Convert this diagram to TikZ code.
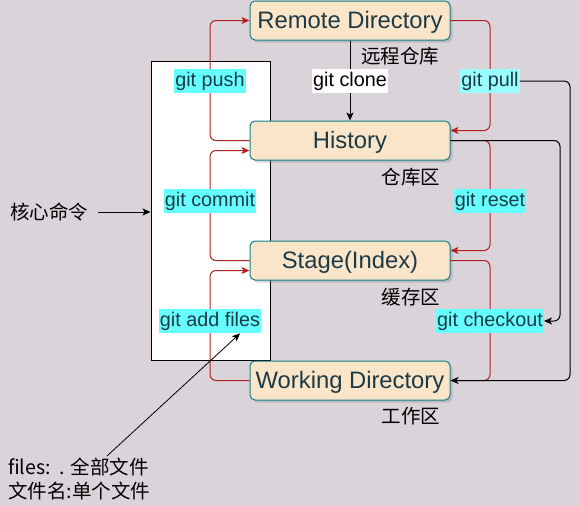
\documentclass[tikz,border=0pt]{standalone}
\usepackage{fontspec}
\setmainfont{Liberation Sans}
\newfontfamily\cjk{Noto Sans CJK SC}
\usetikzlibrary{arrows.meta,shadows,calc}
\definecolor{bgc}{RGB}{218,211,218}
\definecolor{boxf}{RGB}{251,229,201}
\definecolor{boxb}{RGB}{16,128,136}
\definecolor{txt}{RGB}{28,58,70}
\definecolor{cy}{RGB}{102,255,255}
\definecolor{cylight}{RGB}{153,255,255}
\definecolor{redl}{RGB}{178,34,34}
\begin{document}
\begin{tikzpicture}[x=1pt,y=-1pt,
  box/.style={draw=boxb, fill=boxf, rounded corners=5pt, minimum width=200pt, minimum height=39pt,
    line width=1pt, text=txt, font=\fontsize{23.8}{26}\selectfont, text height=17pt, text depth=0.5pt,
    drop shadow={shadow xshift=2.5pt, shadow yshift=-2.5pt, opacity=0.3}},
  lab/.style={fill=cy, text=txt, font=\fontsize{19.8}{22}\selectfont, inner xsep=1pt, inner ysep=2.5pt,
    text height=15pt, text depth=4.5pt},
  cn/.style={font=\cjk\fontsize{19.5}{22}\selectfont, text=black, inner sep=0pt},
  redarrow/.style={draw=redl, line width=1pt, rounded corners=6pt, -{Stealth[length=8pt,width=7pt,inset=2pt]}},
  redline/.style={draw=redl, line width=1pt, rounded corners=6pt},
  blkarrow/.style={draw=black, line width=1pt, rounded corners=6pt, -{Stealth[length=8pt,width=7pt,inset=2pt]}}
]
\fill[bgc] (0,0) rectangle (579,506);
\useasboundingbox (0,0) rectangle (579,506);

% core commands frame
\node[draw=black, fill=white, line width=1pt, minimum width=119pt, minimum height=299pt, inner sep=0pt] (wbox) at (210.5,210.5) {};

% boxes
\node[box] (remote) at (350,20.5) {Remote Directory};
\node[box] (history) at (350,140.5) {History};
\node[box] (stage) at (350,260.5) {Stage(Index)};
\node[box] (working) at (350,380.5) {Working Directory};

% left red connectors
\draw[redarrow] (history.west) -- (210,140.5) |- (remote.west);
\draw[redarrow] (stage.west) -- (210,260.5) |- ([yshift=-10pt]history.west);
\draw[redarrow] (working.west) -- (210,380.5) |- ([yshift=-10pt]stage.west);

% right red connectors
\draw[redarrow] (remote.east) -- (490,20.5) |- ([yshift=10pt]history.east);
\draw[redarrow] (history.east) -- (490,140.5) |- ([yshift=10pt]stage.east);
\draw[redline] (stage.east) -- (490,260.5) |- (working.east);

% labels
\node[lab] (lpush) at (210,81) {git push};
\node[lab] (lcommit) at (210,201) {git commit};
\node[lab] (ladd) at (210,321) {git add files};
\node[lab, fill=cylight] (lpull) at (490,81) {git pull};
\node[lab] (lreset) at (490,201) {git reset};
\node[lab] (lcheck) at (490,321) {git checkout};

% git clone
\draw[blkarrow] (remote.south) -- (history.north);
\node[lab, fill=white, text=black] (lclone) at (350,81) {git clone};

% black connectors on the right
\coordinate (c1) at (570,380.5);
\coordinate (c2) at (560,321);
\draw[blkarrow] (lpull.east) -| (c1) -- (working.east);
\draw[blkarrow] (history.east) -| (c2) -- (lcheck.east);

% chinese labels
\node[cn] (t1) at (400,56) {远程仓库};
\node[cn] (t2) at (411,177) {仓库区};
\node[cn] (t3) at (411,297) {缓存区};
\node[cn] (t4) at (411,416) {工作区};

\node[cn, anchor=west] (core) at (10,212) {核心命令};
\draw[blkarrow, line width=0.8pt] ([xshift=10pt]core.east) -- (wbox.west |- core.east);

\node[cn, anchor=north west, align=left, font=\cjk\fontsize{19.5}{24}\selectfont] (files) at (8,458) {files:\ \ . 全部文件\\文件名:单个文件};
\coordinate (fs) at (107,456);
\draw[black, line width=0.8pt, -{Stealth[length=8pt,width=7pt,inset=2pt]}] (fs) -- ([xshift=30pt]ladd.south);
\end{tikzpicture}
\end{document}
